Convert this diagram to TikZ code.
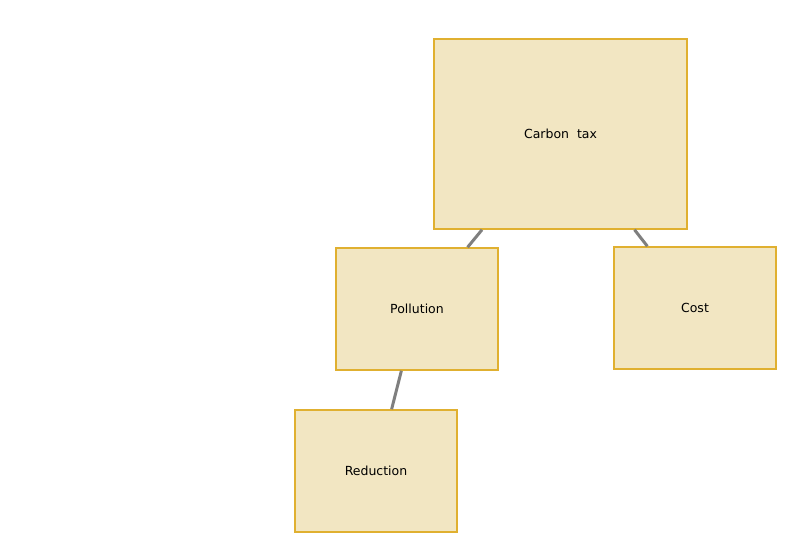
\documentclass[tikz,border=0pt]{standalone}
\usepackage{fontspec}
\setmainfont{DejaVu Sans}
\usepackage{tikz}
\usetikzlibrary{positioning}

\definecolor{boxfill}{HTML}{F2E6C2}
\definecolor{boxline}{HTML}{E0B030}
\definecolor{linkgray}{HTML}{7F7F7F}

\begin{document}
\begin{tikzpicture}[x=1pt, y=-1pt, every node/.style={font=\fontsize{12.5}{14}\selectfont},
		topic/.style={draw=boxline, fill=boxfill, line width=1.5pt, inner sep=0pt, minimum width=162pt, minimum height=122pt},
		link/.style={draw=linkgray, line width=3pt}]
			\useasboundingbox (0,0) rectangle (799,534);
			\node[topic, minimum width=253pt, minimum height=190pt] (carbon_tax) at (560.5,134) {Carbon\ \ tax};
			\node[topic] (pollution) at (417,309) {Pollution};
			\node[topic] (cost) at (695,308) {Cost};
			\node[topic] (reduction) at (376,471) {Reduction};
			\draw[link] (carbon_tax) -- (pollution);
			\draw[link] (carbon_tax) -- (cost);
			\draw[link] (pollution) -- (reduction);
		\end{tikzpicture}
\end{document}
